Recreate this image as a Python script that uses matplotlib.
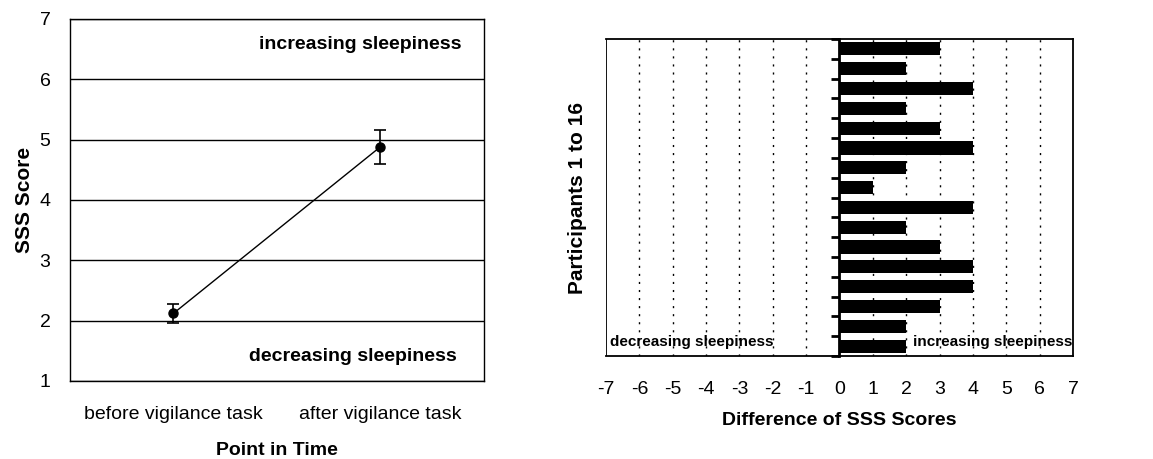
import matplotlib
matplotlib.use("Agg")
import matplotlib.pyplot as plt
import numpy as np

plt.rcParams["font.family"] = ["Liberation Sans", "DejaVu Sans"]
plt.rcParams["axes.unicode_minus"] = False

# SSS means and standard errors before / after the vigilance task
time_points = ["before vigilance task", "after vigilance task"]
sss_mean = [2.12, 4.88]
sss_err = [0.16, 0.28]

# per-participant change in SSS score (participant 1 at the top)
participants = list(range(1, 17))
sss_diff = [3, 2, 4, 2, 3, 4, 2, 1, 4, 2, 3, 4, 4, 3, 2, 2]

fig = plt.figure(figsize=(11.53, 4.59), dpi=100)

# ---- left: mean SSS score over time ----
ax1 = fig.add_axes([0.0607, 0.170, 0.359, 0.789])
xpos = np.array([0.5, 1.5])
ax1.errorbar(xpos, sss_mean, yerr=sss_err, color="black", lw=1.0,
             marker="o", ms=6.5, capsize=4, elinewidth=1.2, capthick=1.2)
ax1.set_xlim(0, 2)
ax1.set_ylim(1, 7)
ax1.set_yticks(range(1, 8))
ax1.set_xticks(xpos)
ax1.set_xticklabels(time_points)
ax1.yaxis.grid(True, color="black", lw=1.0)
ax1.set_axisbelow(True)
ax1.tick_params(axis="both", length=0, labelsize=14)
ax1.tick_params(axis="x", pad=18)
ax1.tick_params(axis="y", pad=14)
for s in ax1.spines.values():
    s.set_linewidth(1.0)
ax1.set_ylabel("SSS Score", fontsize=15, fontweight="bold", labelpad=4)
ax1.set_xlabel("Point in Time", fontsize=14, fontweight="bold", labelpad=14)
ax1.text(0.947, 6.57, "increasing sleepiness", transform=ax1.get_yaxis_transform(),
         ha="right", va="center", fontsize=14, fontweight="bold")
ax1.text(0.935, 1.41, "decreasing sleepiness", transform=ax1.get_yaxis_transform(),
         ha="right", va="center", fontsize=14, fontweight="bold")

# ---- right: individual differences ----
ax2 = fig.add_axes([0.5256, 0.2244, 0.405, 0.6906])
ypos = np.arange(len(participants))
ax2.barh(ypos, sss_diff, height=0.66, color="black", left=0)
ax2.set_xlim(-7, 7)
ax2.set_ylim(15.5, -0.5)
ax2.set_xticks(range(-7, 8))
ax2.set_yticks(np.arange(-0.5, 16, 1.0))
ax2.set_yticklabels([])
for v in range(-6, 7):
    if v != 0:
        ax2.axvline(v, color="black", lw=1.0, ls=(0, (1.5, 4.3)), zorder=0)
ax2.spines["left"].set_position(("data", 0))
ax2.spines["left"].set_linewidth(2.0)
ax2.axvline(-7, color="black", lw=1.3, zorder=3)
for k in ("top", "right", "bottom"):
    ax2.spines[k].set_linewidth(1.3)
ax2.tick_params(axis="y", direction="out", length=6, width=2)
ax2.tick_params(axis="x", length=0, labelsize=14, pad=18)
ax2.set_xlabel("Difference of SSS Scores", fontsize=14, fontweight="bold", labelpad=10)
fig.text(0.5005, 0.5697, "Participants 1 to 16", rotation=90, ha="center", va="center",
         fontsize=15, fontweight="bold")
ax2.text(-6.88, 14.8, "decreasing sleepiness", ha="left", va="center",
         fontsize=11, fontweight="bold")
ax2.text(2.19, 14.8, "increasing sleepiness", ha="left", va="center",
         fontsize=11, fontweight="bold")

fig.savefig("out.png", dpi=100)
